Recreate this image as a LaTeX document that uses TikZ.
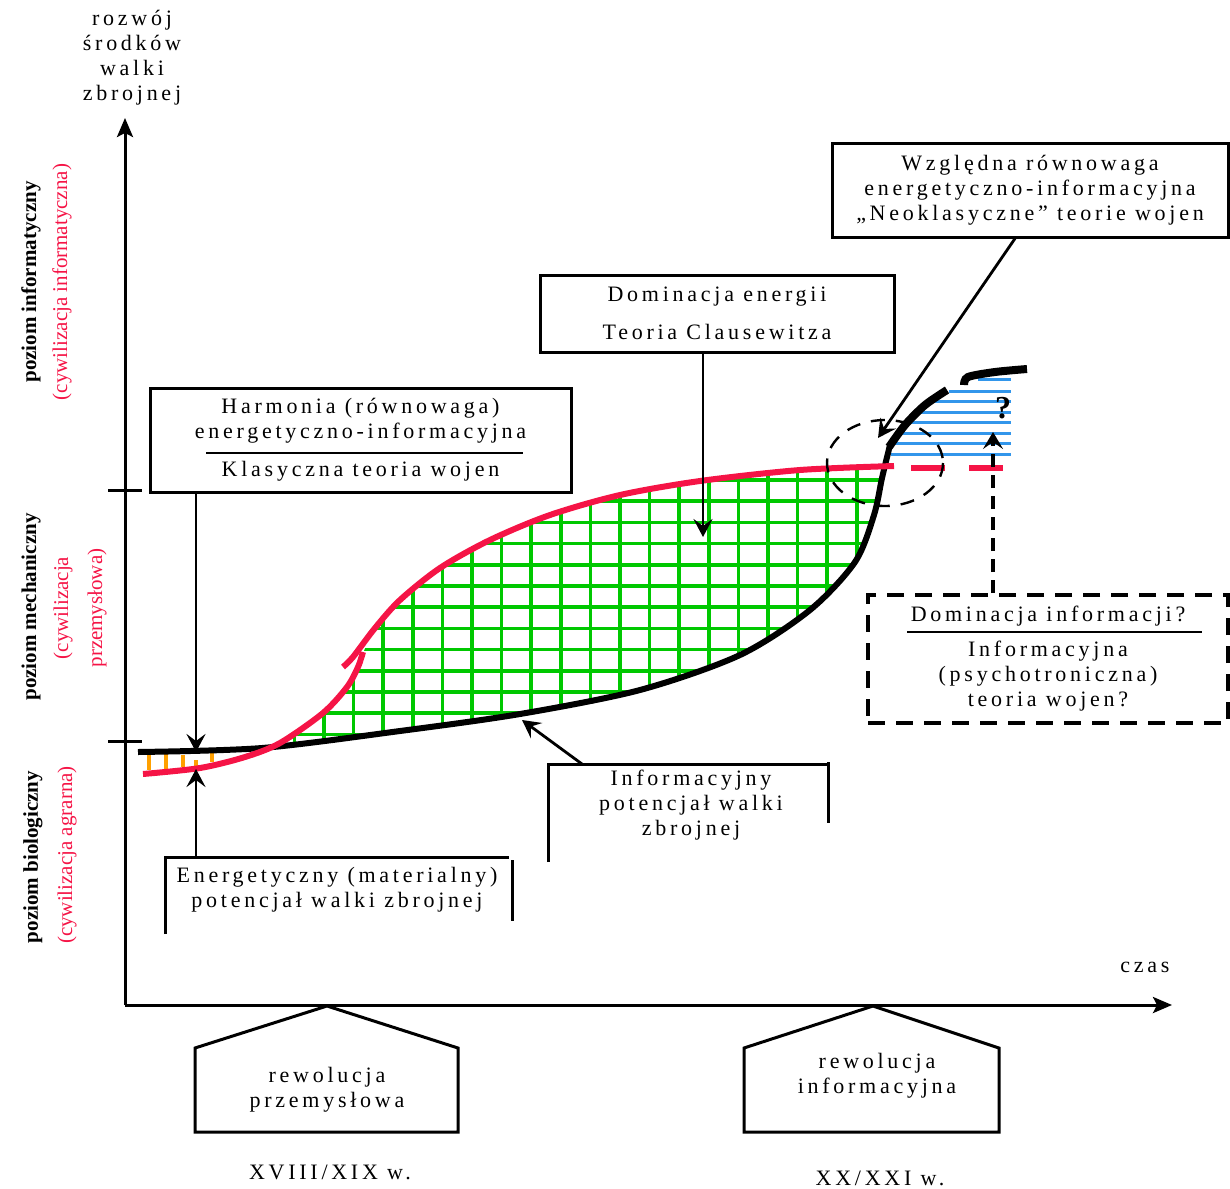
\documentclass[tikz,border=0pt]{standalone}
\usepackage{fontspec}
\setmainfont{Liberation Serif}[LetterSpace=17]
\newfontfamily\axisfont{Liberation Serif}
\usetikzlibrary{arrows.meta}
\definecolor{curvered}{RGB}{245,20,70}
\definecolor{gridgreen}{RGB}{0,200,0}
\definecolor{hatchblue}{RGB}{50,150,235}
\definecolor{tickorange}{RGB}{255,160,0}

\begin{document}
\begin{tikzpicture}[x=1pt, y=-1pt,
  txt/.style={font=\fontsize{22}{25}\selectfont, align=center, inner sep=0pt},
  box/.style={draw, line width=3pt, inner sep=0pt, font=\fontsize{22}{25}\selectfont, align=center},
  frame/.style={line width=3pt},
  axis/.style={line width=3pt, -{Stealth[length=19pt,width=16pt,inset=4pt]}},
  arr/.style={line width=2.8pt, -{Stealth[length=18pt,width=19pt,inset=7pt]}},
  darr/.style={line width=4pt, dash pattern=on 13pt off 8pt, -{Stealth[length=17pt,width=20pt,inset=7pt]}},
  redline/.style={curvered, line width=6pt},
  blackline/.style={black, line width=6pt},
  greengrid/.style={gridgreen, line width=3.5pt},
  hatch/.style={hatchblue, line width=3pt},
  orangetick/.style={tickorange, line width=3.5pt},
  lvl/.style={font=\axisfont\bfseries\fontsize{21}{25}\selectfont, rotate=90, inner sep=0pt},
  civ/.style={font=\axisfont\fontsize{21}{25}\selectfont, text=curvered, rotate=90, inner sep=0pt, align=center}]
\useasboundingbox (0,0) rectangle (1230,1188);

% axes
\coordinate (O) at (125,1005);
\coordinate (ytop) at (125,118);
\coordinate (xend) at (1172,1005);
\draw[axis] (O) -- (ytop);
\draw[axis] (O) -- (xend);
\draw[frame] (108,490) -- (142,490);
\draw[frame] (108,741) -- (142,741);
\node[txt] (ytitle) at (132,58) {rozwój\\środków\\walki\\zbrojnej};
\node[txt] (xtitle) at (1145,967) {czas};

% level labels
\node[lvl] (lvlinf) at (31,282) {poziom informatyczny};
\node[civ] (civinf) at (62,282) {(cywilizacja informatyczna)};
\node[lvl] (lvlmech) at (31,607) {poziom mechaniczny};
\node[civ, font=\axisfont\fontsize{21}{34}\selectfont] (civmech) at (80,608) {(cywilizacja\\przemysłowa)};
\node[lvl] (lvlbio) at (33,857) {poziom biologiczny};
\node[civ] (civbio) at (67,855) {(cywilizacja agrarna)};

% green grid between the two curves
\begin{scope}
\clip plot[smooth] coordinates {(262,749) (280,743) (323,713) (347,687) (360,660) (375,628) (400,600) (440,568) (490,540) (550,515) (620,495) (700,481) (800,470) (886,465)}
  -- plot[smooth] coordinates {(886,465) (882,478) (874,515) (855,562) (810,610) (740,655) (640,690) (520,714) (400,731) (262,748)} -- cycle;
\foreach \i in {0,...,20}
  \draw[greengrid] (294.4+29.6*\i,450) -- ++(0,310);
\foreach \j in {0,...,14}
  \draw[greengrid] (250,458.8+21.2*\j) -- ++(650,0);
\end{scope}

% blue hatching
\foreach \xl/\yy in {978/379, 949/391, 932/401, 919/412, 907/422, 899/433, 895/443, 891/454}
  \draw[hatch] (\xl,\yy) -- (1011,\yy);

% orange ticks
\foreach \xx/\ya/\yb in {149/753/770, 166/753/770, 183/755/767, 196/760/768, 212/753/762}
  \draw[orangetick] (\xx,\ya) -- (\xx,\yb);

% information potential (black)
\draw[blackline] plot[smooth] coordinates {(138,752) (262,748) (400,731) (520,714) (640,690) (740,655) (810,610) (855,562) (874,515) (882,478) (890,445)};
\draw[blackline, line width=8pt] plot[smooth] coordinates {(889,447) (905,425) (925,405) (947,390)};
\draw[blackline, line width=8pt] plot[smooth] coordinates {(964,385) (968,377) (995,372) (1027,369)};

% energy potential (red)
\draw[redline] plot[smooth] coordinates {(143,774) (200,768) (245,757) (280,743) (323,713) (347,687) (358,667) (363,652)};
\draw[redline] plot[smooth] coordinates {(343,667) (353,657) (375,628) (400,600) (440,568) (490,540) (550,515) (620,495) (700,481) (800,470) (894,466)};
\draw[redline, line width=6.5pt] (911,468) -- (945,468);
\draw[redline, line width=6.5pt] (969,468) -- (1003,468);

% dashed ellipse
\draw[line width=2.4pt, dash pattern=on 14pt off 11pt] (885,463) ellipse [x radius=58, y radius=43];
\node[font=\bfseries\fontsize{32}{32}\selectfont, inner sep=0pt] (qm) at (1003,408) {?};

% boxes
\node[box, minimum width=396pt, minimum height=94pt] (relbox) at (1030,190)
  {Względna równowaga\\energetyczno-informacyjna\\„Neoklasyczne” teorie wojen};
\node[box, minimum width=354pt, minimum height=77pt] (dombox) at (717,313.5)
  {Dominacja energii\\[13pt]Teoria Clausewitza};
\node[box, minimum width=421pt, minimum height=104pt] (harmbox) at (360.5,440)
  {Harmonia (równowaga)\\energetyczno-informacyjna\\[13pt]Klasyczna teoria wojen};
\draw[line width=2.6pt] (206,453) -- (523,453);
\node[box, dash pattern=on 17pt off 11pt, line width=4pt, minimum width=360pt, minimum height=128pt] (infobox) at (1048,659)
  {Dominacja informacji?\\[10pt]Informacyjna\\(psychotroniczna)\\teoria wojen?};
\draw[line width=2.6pt] (907,632) -- (1202,632);

% open boxes
\coordinate (enTL) at (165,857);
\draw[frame] (165,934) -- (enTL) -- (509,857);
\draw[frame] (512,860) -- (512,921);
\node[txt] (entext) at (337,890) {Energetyczny (materialny)\\potencjał walki zbrojnej};
\coordinate (infTL) at (548,764);
\draw[frame] (548,862) -- (infTL) -- (828,764);
\draw[frame] (828,762) -- (828,823);
\node[txt] (inftext) at (691,805) {Informacyjny\\potencjał walki\\zbrojnej};

% revolutions
\draw[frame] (327,1006) -- (458,1048) -- (458,1132) -- (195,1132) -- (195,1048) -- cycle;
\node[txt] (revind) at (327,1090) {rewolucja\\przemysłowa};
\node[txt] (cent1) at (330,1172) {XVIII/XIX w.};
\draw[frame] (873,1006) -- (999,1048) -- (999,1132) -- (744,1132) -- (744,1048) -- cycle;
\node[txt] (revinf) at (877,1076) {rewolucja\\informacyjna};
\node[txt] (cent2) at (880,1178) {XX/XXI w.};

% arrows
\coordinate (tipH) at (196,752);
\coordinate (tipE) at (196,769);
\coordinate (tipD) at (703,537);
\coordinate (tipI) at (522,720);
\coordinate (tipR) at (878,438);
\coordinate (tipQ) at (993,432);
\draw[arr] (harmbox.south -| tipH) -- (tipH);
\draw[arr] (tipE |- enTL) -- (tipE);
\draw[arr] (dombox.south -| tipD) -- (tipD);
\draw[arr] ([xshift=34pt]infTL) -- (tipI);
\draw[arr] ([xshift=-15pt]relbox.south) -- (tipR);
\draw[darr] (infobox.north -| tipQ) -- (tipQ);
\end{tikzpicture}
\end{document}
